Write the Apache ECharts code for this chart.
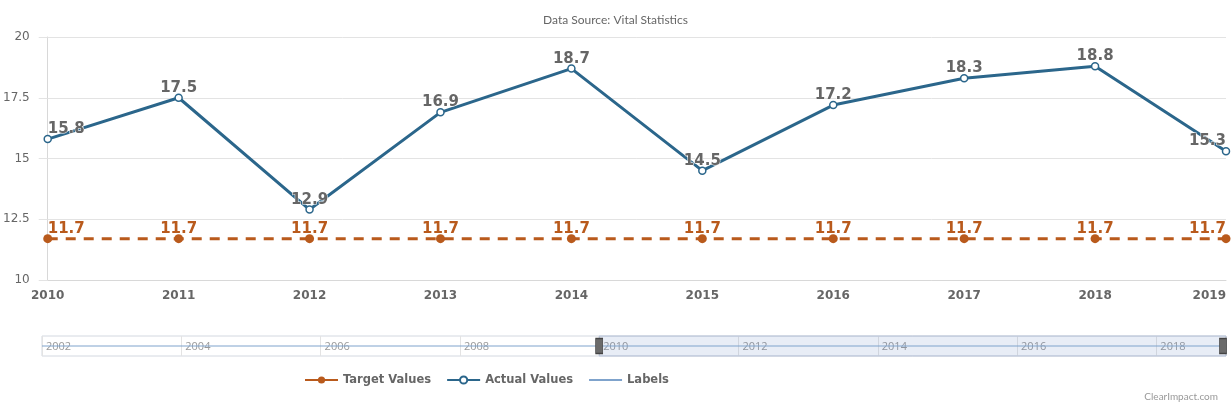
<!DOCTYPE html>
<html>
<head>
<meta charset="utf-8">
<script src="https://cdn.jsdelivr.net/npm/echarts@6/dist/echarts.min.js"></script>
<style>
  html, body { margin: 0; padding: 0; background: #fff; }
  #chart { width: 1231px; height: 411px; }
</style>
</head>
<body>
<div id="chart"></div>
<script>
// chart data
var years = ['2010', '2011', '2012', '2013', '2014', '2015', '2016', '2017', '2018', '2019'];
var actualValues = [15.8, 17.5, 12.9, 16.9, 18.7, 14.5, 17.2, 18.3, 18.8, 15.3];
var targetValues = [11.7, 11.7, 11.7, 11.7, 11.7, 11.7, 11.7, 11.7, 11.7, 11.7];

// navigator strip (bottom)
var navYears = [2002, 2019];
var navLevel = [1, 1];
var navSelected = [2010, 2019];

var ORANGE = '#b95a1c';
var BLUE = '#2b668b';
var FONT = 'DejaVu Sans';

// first / last data labels are pushed inside the plot
function edgeLabels(values) {
    return values.map(function (v, i) {
        if (i === 0) return { value: v, label: { align: 'left' } };
        if (i === values.length - 1) return { value: v, label: { align: 'right' } };
        return v;
    });
}

var myChart = echarts.init(document.getElementById('chart'));
var option = {
    animation: false,
    backgroundColor: '#fff',
    title: [
        {
            text: 'Data Source: Vital Statistics',
            left: 'center',
            top: 9,
            textStyle: { fontFamily: 'Lato', fontSize: 12, fontWeight: 'normal', color: '#666' }
        },
        {
            text: 'ClearImpact.com',
            right: 8,
            bottom: 4,
            textStyle: { fontFamily: 'Lato', fontSize: 10, fontWeight: 'normal', color: '#999' }
        }
    ],
    legend: {
        left: 304,
        top: 374,
        padding: 0,
        itemWidth: 33,
        itemHeight: 9,
        itemGap: 15,
        lineStyle: { type: 'solid' },
        textStyle: { fontFamily: FONT, fontSize: 11.5, fontWeight: 'bold', color: '#666' },
        data: [
            'Target Values',
            'Actual Values',
            { name: 'Labels', itemStyle: { opacity: 0 } }
        ]
    },
    grid: [
        { left: 42, right: 5, top: 37, bottom: 131 },
        { left: 42, right: 5, top: 336, height: 20, show: true, borderColor: '#d3d8e0', borderWidth: 1 }
    ],
    xAxis: [
        {
            type: 'category',
            data: years,
            boundaryGap: false,
            axisLine: { lineStyle: { color: '#d8d8d8' } },
            axisTick: { show: false },
            axisLabel: {
                margin: 10,
                alignMaxLabel: 'right',
                fontFamily: FONT, fontSize: 12, fontWeight: 'bold', color: '#666'
            }
        },
        {
            type: 'value',
            gridIndex: 1,
            min: 2002,
            max: 2019,
            interval: 2,
            axisLine: { show: false },
            axisTick: { show: false },
            splitLine: { show: true, lineStyle: { color: '#e3e3e3' } },
            axisLabel: {
                inside: true,
                margin: 9,
                align: 'left',
                verticalAlign: 'middle',
                padding: [0, 0, 0, 4],
                showMaxLabel: false,
                formatter: function (v) { return String(v); },
                fontFamily: 'Open Sans', fontSize: 11, color: '#999'
            }
        }
    ],
    yAxis: [
        {
            type: 'value',
            min: 10,
            max: 20,
            interval: 2.5,
            axisLine: { show: true, lineStyle: { color: '#d8d8d8' } },
            axisTick: { show: true, length: 9, lineStyle: { color: '#e3e3e3' } },
            splitLine: { lineStyle: { color: '#e3e3e3' } },
            axisLabel: { margin: 18, fontFamily: FONT, fontSize: 12, color: '#666' }
        },
        { type: 'value', gridIndex: 1, min: 0, max: 2, show: false }
    ],
    series: [
        {
            name: 'Target Values',
            type: 'line',
            data: edgeLabels(targetValues),
            symbol: 'circle',
            symbolSize: 9,
            color: ORANGE,
            itemStyle: { color: ORANGE },
            lineStyle: { color: ORANGE, width: 3, type: [10, 8] },
            label: {
                show: true,
                position: 'top',
                distance: -2,
                fontFamily: FONT, fontSize: 15, fontWeight: 'bold', color: ORANGE,
                textBorderColor: '#fff', textBorderWidth: 1
            },
            z: 2
        },
        {
            name: 'Actual Values',
            type: 'line',
            data: edgeLabels(actualValues),
            symbol: 'circle',
            symbolSize: 7,
            showAllSymbol: true,
            color: BLUE,
            itemStyle: { color: '#fff', borderColor: BLUE, borderWidth: 1.5 },
            lineStyle: { color: BLUE, width: 3 },
            label: {
                show: true,
                position: 'top',
                distance: -2,
                fontFamily: FONT, fontSize: 15, fontWeight: 'bold', color: '#666',
                textBorderColor: '#fff', textBorderWidth: 1
            },
            z: 3
        },
        {
            name: 'Labels',
            type: 'line',
            xAxisIndex: 1,
            yAxisIndex: 1,
            data: navYears.map(function (y, i) { return [y, navLevel[i]]; }),
            symbol: 'none',
            color: '#7fa3cc',
            lineStyle: { color: '#7fa3cc', width: 1 },
            silent: true,
            markArea: {
                silent: true,
                label: { show: false },
                itemStyle: { color: 'rgba(102,133,194,0.15)', borderColor: '#b9c4d8', borderWidth: 1 },
                data: [[{ xAxis: navSelected[0] }, { xAxis: navSelected[1] }]]
            },
            markPoint: {
                silent: true,
                symbol: 'rect',
                symbolSize: [7, 15],
                label: { show: false },
                itemStyle: { color: '#6b6b6b', borderColor: '#444', borderWidth: 1 },
                data: [
                    { coord: [navSelected[0], navLevel[0]] },
                    { coord: [navSelected[1], navLevel[1]], symbolOffset: [-3, 0] }
                ]
            }
        }
    ]
};
myChart.setOption(option);
window.addEventListener('resize', function () {
    myChart.resize();
});
</script>
</body>
</html>
